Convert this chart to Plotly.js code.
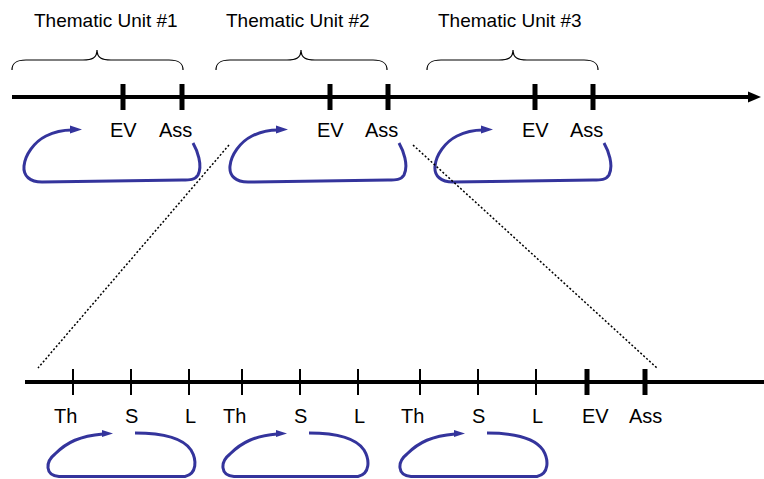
<!DOCTYPE html>
<html><head><meta charset="utf-8">
<script src="https://cdn.plot.ly/plotly-3.0.1.min.js"></script>
<style>html,body{margin:0;padding:0;background:#fff}</style>
</head><body><div id="chart" style="width:764px;height:479px"></div>
<script>
// ---- diagram data ----
const unitTitles = ['Thematic Unit #1', 'Thematic Unit #2', 'Thematic Unit #3'];
const unitStart = [12, 216, 427];
const unitEnd = [183, 387, 598];
const unitTip = [97, 301, 513];
const unitEV = [123, 330, 535];
const unitAss = [182, 388, 593];
const topLabels = ['EV', 'Ass'];
const bottomTicks = [73, 131, 189, 242, 300, 358, 420, 478, 536, 587, 645];
const bottomLabels = ['Th', 'S', 'L', 'Th', 'S', 'L', 'Th', 'S', 'L', 'EV', 'Ass'];
const zoomFrom = [229, 413];
const zoomTo = [38, 657];

// ---- layout constants ----
const FONT = 'Liberation Sans, Arial, sans-serif';
const BLUE = '#34349c';
const yTop = 97, yBot = 382;
const titleX = [106, 298, 510];
const thick = new Set(['EV', 'Ass']);
const labelShift = {Th: -8, S: 0, L: 1, EV: 8, Ass: 0};
// bottom loop geometry (offsets from the S tick): start, arrow tip, left, right
const loopGeom = [[4, -18, -86, 64], [9, -13, -80, 68], [9, -13, -81, 69]];

const traces = [];
traces.push({x: [12, 750], y: [yTop, yTop], mode: 'lines', line: {color: '#000', width: 4}, hoverinfo: 'skip'});
const tx = [], ty = [];
unitEV.forEach((e, i) => { tx.push(e, e, null, unitAss[i], unitAss[i], null); ty.push(84, 110, null, 84, 110, null); });
traces.push({x: tx, y: ty, mode: 'lines', line: {color: '#000', width: 5}, hoverinfo: 'skip'});
traces.push({x: [25, 764], y: [yBot, yBot], mode: 'lines', line: {color: '#000', width: 4}, hoverinfo: 'skip'});
const bx1 = [], by1 = [], bx2 = [], by2 = [];
bottomTicks.forEach((t, i) => {
  if (thick.has(bottomLabels[i])) { bx2.push(t, t, null); by2.push(369, 395, null); }
  else { bx1.push(t, t, null); by1.push(369, 395, null); }
});
traces.push({x: bx1, y: by1, mode: 'lines', line: {color: '#000', width: 2}, hoverinfo: 'skip'});
traces.push({x: bx2, y: by2, mode: 'lines', line: {color: '#000', width: 5}, hoverinfo: 'skip'});

const shapes = [];
shapes.push({type: 'path', xref: 'x', yref: 'y', path: 'M748,91.5 L761,97 L748,102.5 Z', fillcolor: '#000', line: {width: 0}});
function brace(x0, x1, tip) {
  const yE = 70, yM = 60, yT = 50;
  return `M${x0},${yE} C${x0},${yM+3} ${x0+4},${yM} ${x0+14},${yM} L${tip-14},${yM} C${tip-5},${yM} ${tip},${yM-2} ${tip},${yT} C${tip},${yM-2} ${tip+5},${yM} ${tip+14},${yM} L${x1-14},${yM} C${x1-4},${yM} ${x1},${yM+3} ${x1},${yE}`;
}
unitStart.forEach((s, i) => shapes.push({type: 'path', xref: 'x', yref: 'y', path: brace(s, unitEnd[i], unitTip[i]), line: {color: '#000', width: 1.2}}));
function topLoop(A) {
  return `M${A+11},143 C${A+15},150 ${A+21},165 ${A+16},175 C${A+13},180 ${A+8},180 ${A},180 L${A-140},182 C${A-152},182 ${A-159},176 ${A-158},166 C${A-157},155 ${A-148},142 ${A-136},136 C${A-128},132 ${A-118},130 ${A-110},130`;
}
unitAss.forEach(A => {
  shapes.push({type: 'path', xref: 'x', yref: 'y', path: topLoop(A), line: {color: BLUE, width: 3}});
  shapes.push({type: 'path', xref: 'x', yref: 'y', path: `M${A-112},125.5 L${A-100},129.5 L${A-112},133.5 Z`, fillcolor: BLUE, line: {width: 0}});
});
function botLoop(S, g) {
  const [so, tp, L, R] = g;
  return `M${S+so},433 C${S+R-30},433 ${S+R-12},438 ${S+R-4},450 C${S+R+2},460 ${S+R+2},474 ${S+R-10},476.5 L${S+L+14},476.5 C${S+L},475.5 ${S+L},462 ${S+L+10},454 C${S+L+22},442 ${S+L+35},436 ${S+tp-10},434`;
}
let k = 0;
bottomTicks.forEach((t, i) => {
  if (bottomLabels[i] !== 'S') return;
  const g = loopGeom[k++];
  shapes.push({type: 'path', xref: 'x', yref: 'y', path: botLoop(t, g), line: {color: BLUE, width: 3}});
  const tp = t + g[1];
  shapes.push({type: 'path', xref: 'x', yref: 'y', path: `M${tp-11},430 L${tp},433.5 L${tp-11},437 Z`, fillcolor: BLUE, line: {width: 0}});
});
zoomFrom.forEach((f, i) => {
  shapes.push({type: 'line', xref: 'x', yref: 'y', x0: f, y0: 145, x1: zoomTo[i], y1: 368, line: {color: '#000', width: 1.5, dash: '2px,2px'}});
});

const annotations = [];
unitTitles.forEach((t, i) => annotations.push({x: titleX[i], y: 20, xref: 'x', yref: 'y', text: t, showarrow: false, xanchor: 'center', yanchor: 'middle', font: {family: FONT, size: 19, color: '#000'}}));
unitEV.forEach((e, i) => {
  annotations.push({x: e, y: 130, xref: 'x', yref: 'y', text: topLabels[0], showarrow: false, xanchor: 'center', yanchor: 'middle', font: {family: FONT, size: 20, color: '#000'}});
  annotations.push({x: unitAss[i] - 7, y: 130, xref: 'x', yref: 'y', text: topLabels[1], showarrow: false, xanchor: 'center', yanchor: 'middle', font: {family: FONT, size: 20, color: '#000'}});
});
bottomTicks.forEach((t, i) => {
  annotations.push({x: t + (labelShift[bottomLabels[i]] || 0), y: 416, xref: 'x', yref: 'y', text: bottomLabels[i], showarrow: false, xanchor: 'center', yanchor: 'middle', font: {family: FONT, size: 20, color: '#000'}});
});

const layout = {
  width: 764, height: 479,
  margin: {l: 0, r: 0, t: 0, b: 0, pad: 0},
  paper_bgcolor: '#fff', plot_bgcolor: '#fff',
  showlegend: false, hovermode: false,
  xaxis: {range: [0, 764], visible: false, fixedrange: true},
  yaxis: {range: [479, 0], visible: false, fixedrange: true},
  shapes: shapes, annotations: annotations
};
Plotly.newPlot('chart', traces, layout, {staticPlot: true, displayModeBar: false});
</script></body></html>
